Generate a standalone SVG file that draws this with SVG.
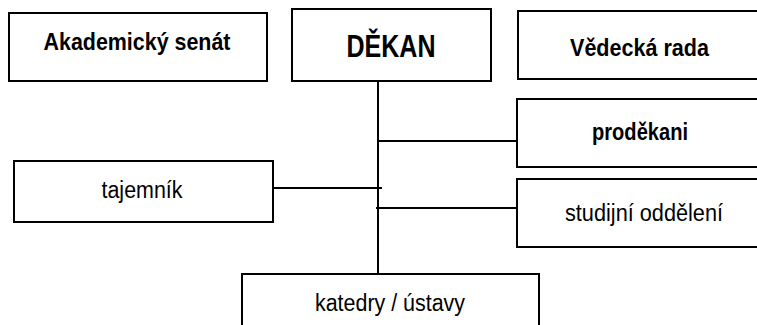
<svg xmlns="http://www.w3.org/2000/svg" width="757" height="325" viewBox="0 0 757 325">
<style>
.box{fill:#fff;stroke:#000;stroke-width:2}
.ln{stroke:#000;stroke-width:2;fill:none}
.t{font-family:"Liberation Sans",Arial,sans-serif;font-size:23px;fill:#000;text-anchor:middle}
.b{font-weight:bold}
</style>
<rect width="757" height="325" fill="#fff"/>
<g id="connectors">
<line class="ln" x1="378" y1="81" x2="378" y2="274"/>
<line class="ln" x1="378" y1="141" x2="520" y2="141"/>
<line class="ln" x1="273" y1="188" x2="382" y2="188"/>
<line class="ln" x1="376" y1="208" x2="517" y2="208"/>
</g>
<g id="akademicky-senat">
<rect class="box" x="9" y="13" width="258" height="68"/>
<text class="t b" x="137" y="50" style="font-size:24px" textLength="187" lengthAdjust="spacingAndGlyphs">Akademický senát</text>
</g>
<g id="dekan">
<rect class="box" x="292" y="9" width="199" height="72"/>
<text class="t b" x="391" y="57" style="font-size:32px" textLength="89" lengthAdjust="spacingAndGlyphs">DĚKAN</text>
</g>
<g id="vedecka-rada">
<rect class="box" x="518" y="11" width="260" height="68"/>
<text class="t b" x="639.5" y="56" style="font-size:23px" textLength="139" lengthAdjust="spacingAndGlyphs">Vědecká rada</text>
</g>
<g id="prodekani">
<rect class="box" x="517" y="99" width="260" height="68"/>
<text class="t b" x="640" y="140" style="font-size:23px" textLength="96" lengthAdjust="spacingAndGlyphs">proděkani</text>
</g>
<g id="studijni-oddeleni">
<rect class="box" x="517" y="179" width="260" height="68"/>
<text class="t" x="644" y="221" textLength="158" lengthAdjust="spacingAndGlyphs">studijní oddělení</text>
</g>
<g id="tajemnik">
<rect class="box" x="14" y="161" width="259" height="61"/>
<text class="t" x="142" y="198" textLength="81" lengthAdjust="spacingAndGlyphs">tajemník</text>
</g>
<g id="katedry-ustavy">
<rect class="box" x="242" y="274" width="297" height="70"/>
<text class="t" x="390" y="311" textLength="150" lengthAdjust="spacingAndGlyphs">katedry / ústavy</text>
</g>
</svg>
